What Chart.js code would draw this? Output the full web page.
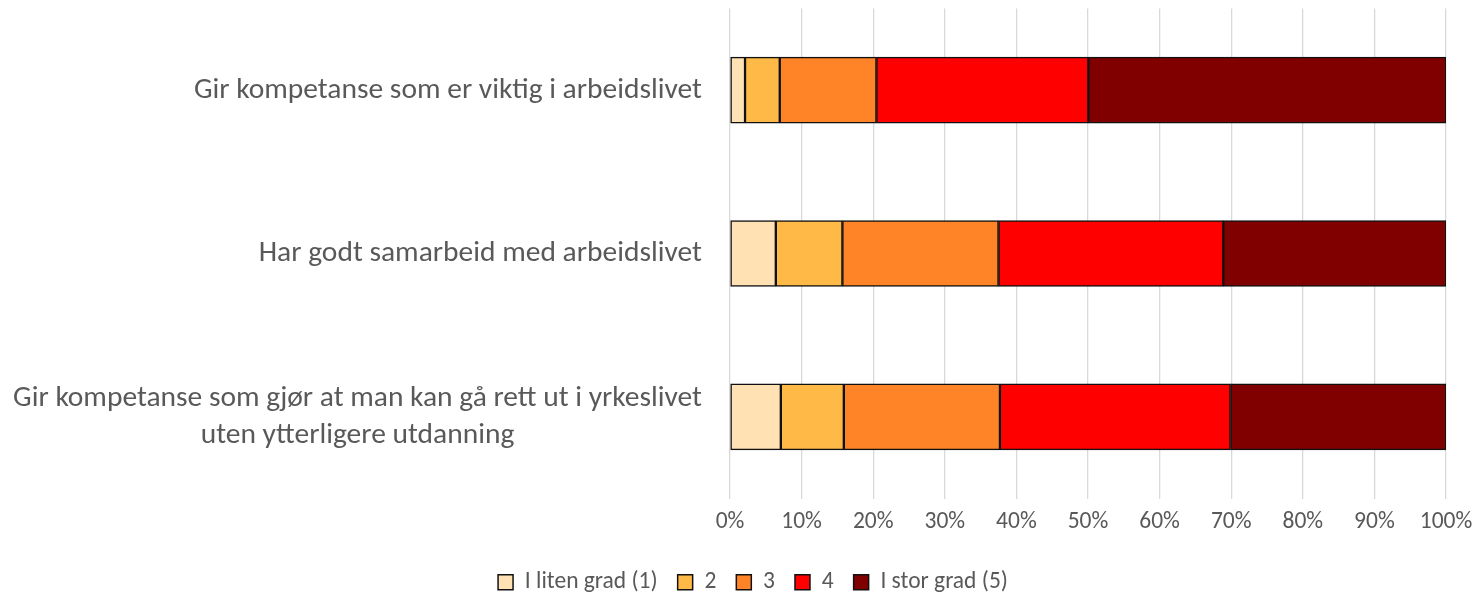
<!DOCTYPE html>
<html>
<head>
<meta charset="utf-8">
<script src="https://cdn.jsdelivr.net/npm/chart.js@4/dist/chart.umd.min.js"></script>
<style>
  html, body { margin: 0; padding: 0; background: #ffffff; }
  #wrap { width: 1475px; height: 592px; position: relative; }
</style>
</head>
<body>
<div id="wrap"><canvas id="c" width="1475" height="592"></canvas></div>
<script>
// ---- data ----
const categories = [
  "Gir kompetanse som er viktig i arbeidslivet",
  "Har godt samarbeid med arbeidslivet",
  ["Gir kompetanse som gjør at man kan gå rett ut i yrkeslivet", "uten ytterligere utdanning"]
];
const seriesNames = ["I liten grad (1)", "2", "3", "4", "I stor grad (5)"];
const grad1 = [2.1, 6.4, 7.1];
const grad2 = [4.85, 9.3, 8.8];
const grad3 = [13.5, 21.8, 21.8];
const grad4 = [29.6, 31.4, 32.2];
const grad5 = [49.95, 31.1, 30.1];
const xTicks = [0, 10, 20, 30, 40, 50, 60, 70, 80, 90, 100];
const colors = ["#FFE1B4", "#FFB946", "#FF8427", "#FF0000", "#800000"];

const FONT = "Carlito, 'Open Sans', 'Liberation Sans', sans-serif";
const TEXT = "#595959";

const seriesValues = [grad1, grad2, grad3, grad4, grad5];
const datasets = seriesNames.map((n, i) => ({
  label: n,
  data: seriesValues[i],
  backgroundColor: colors[i],
  borderColor: "#111111",
  borderWidth: 1.5,
  borderSkipped: false,
  barThickness: 66
}));

const yLabelPlugin = {
  id: "yLabels",
  afterDraw(chart) {
    const ctx = chart.ctx;
    const y = chart.scales.y;
    const right = chart.chartArea.left - 28;
    ctx.save();
    ctx.font = "29.5px " + FONT;
    ctx.fillStyle = TEXT;
    ctx.textAlign = "center";
    ctx.textBaseline = "middle";
    const lh = 37;
    categories.forEach((lab, i) => {
      const lines = Array.isArray(lab) ? lab : [lab];
      const w = Math.max(...lines.map(l => ctx.measureText(l).width));
      const cx = right - w / 2;
      const cy = y.getPixelForTick(i);
      const y0 = cy - (lines.length - 1) * lh / 2;
      lines.forEach((l, k) => ctx.fillText(l, cx, y0 + k * lh));
    });
    ctx.restore();
  }
};

new Chart(document.getElementById("c"), {
  type: "bar",
  data: { labels: categories, datasets },
  plugins: [yLabelPlugin],
  options: {
    indexAxis: "y",
    responsive: false,
    animation: false,
    layout: { padding: { top: 8.5, right: 29, left: 60, bottom: -12 } },
    scales: {
      x: {
        stacked: true,
        min: 0,
        max: 100,
        afterBuildTicks(s) { s.ticks = xTicks.map(v => ({ value: v })); },
        afterFit(s) { s.height = 52; s.paddingLeft = 0; s.paddingRight = 0; },
        grid: { color: "#D9D9D9", lineWidth: 1.3, drawTicks: false },
        border: { display: false },
        ticks: {
          padding: 9.5,
          maxRotation: 0,
          autoSkip: false,
          color: TEXT,
          font: { family: FONT, size: 23.5 },
          callback: v => v + "%"
        }
      },
      y: {
        stacked: true,
        afterFit(s) { s.width = 670; s.paddingTop = 0; s.paddingBottom = 0; },
        grid: { display: false, drawTicks: false },
        border: { display: false },
        ticks: { display: false }
      }
    },
    plugins: {
      legend: {
        position: "bottom",
        labels: {
          boxWidth: 15,
          boxHeight: 15,
          padding: 20,
          color: TEXT,
          font: { family: FONT, size: 23.5 }
        }
      },
      tooltip: { enabled: false }
    }
  }
});
</script>
</body>
</html>
